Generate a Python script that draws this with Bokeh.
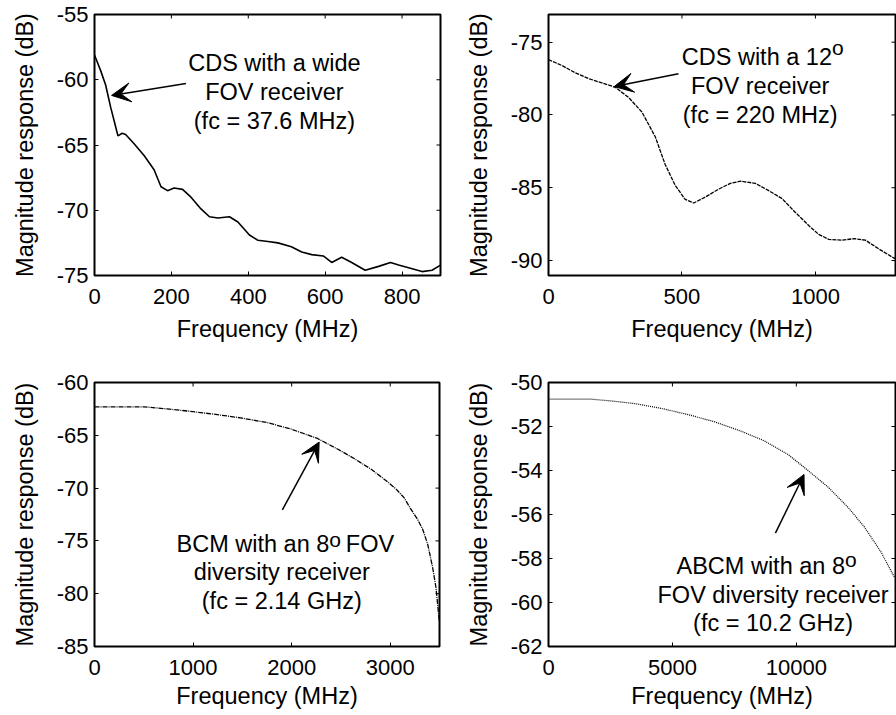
import math
from bokeh.plotting import figure
from bokeh.layouts import column, row
from bokeh.models import Range1d, FixedTicker, Arrow, VeeHead, Label
from bokeh.embed import file_html
from bokeh.resources import INLINE

# ---------------- data ----------------
cds_wide_freq = [0, 16, 29, 42, 55, 61, 72, 81, 103, 129, 155, 173, 190, 207, 229, 251, 277, 299,
                 321, 351, 373, 403, 425, 451, 477, 512, 539, 565, 595, 617, 643, 669, 704, 739,
                 770, 791, 817, 852, 878, 900]
cds_wide_mag = [-58.1, -59.3, -60.4, -62.1, -63.6, -64.3, -64.1, -64.2, -64.9, -65.8, -66.9, -68.2,
                -68.5, -68.3, -68.4, -69.0, -69.9, -70.5, -70.6, -70.5, -70.9, -71.9, -72.3, -72.4,
                -72.5, -72.8, -73.2, -73.4, -73.5, -74.0, -73.6, -74.0, -74.6, -74.3, -74.0, -74.2,
                -74.4, -74.7, -74.6, -74.2]

cds12_freq = [0, 50, 100, 150, 200, 250, 300, 350, 400, 437, 475, 512, 544, 587, 637, 681, 719,
              775, 825, 875, 925, 975, 1012, 1050, 1100, 1144, 1187, 1237, 1300]
cds12_mag = [-76.2, -76.6, -77.1, -77.5, -77.8, -78.1, -78.8, -79.8, -81.5, -83.4, -84.85, -85.8,
             -86.05, -85.65, -85.1, -84.7, -84.55, -84.7, -85.2, -85.75, -86.7, -87.6, -88.2,
             -88.55, -88.6, -88.5, -88.6, -89.2, -89.9]

bcm_freq = [0, 500, 738, 941, 1212, 1483, 1754, 1991, 2262, 2465, 2634, 2804, 2973, 3060, 3140,
            3210, 3280, 3329, 3380, 3430, 3464, 3481, 3498]
bcm_mag = [-62.3, -62.3, -62.5, -62.7, -63.0, -63.35, -63.8, -64.4, -65.3, -66.3, -67.2, -68.2,
           -69.4, -70.1, -70.9, -72.0, -73.0, -73.9, -75.3, -77.5, -79.4, -81.0, -82.6]

abcm_freq = [0, 1745, 2550, 3490, 4564, 5638, 6711, 7785, 8725, 9664, 10470, 11275, 12081, 12752,
             13423, 13960]
abcm_mag = [-50.76, -50.76, -50.84, -50.96, -51.18, -51.46, -51.79, -52.22, -52.66, -53.27, -54.0,
            -54.75, -55.67, -56.58, -57.72, -58.86]

x_ticks_1 = [0, 200, 400, 600, 800]
y_ticks_1 = [-75, -70, -65, -60, -55]
x_ticks_2 = [0, 500, 1000]
y_ticks_2 = [-90, -85, -80, -75]
x_ticks_3 = [0, 1000, 2000, 3000]
y_ticks_3 = [-85, -80, -75, -70, -65, -60]
x_ticks_4 = [0, 5000, 10000]
y_ticks_4 = [-62, -60, -58, -56, -54, -52, -50]

x_label = "Frequency (MHz)"
y_label = "Magnitude response (dB)"

FONT = "Liberation Sans"
TICK_SIZE = "22px"
LABEL_SIZE = "23.5px"
ANN_SIZE = "23.5px"
SUP_SIZE = "21px"


def make_fig(width, height, bl, br, bt, bb, xr, yr, xt, yt, xstand):
    p = figure(width=width, height=height, x_range=Range1d(*xr), y_range=Range1d(*yr),
               output_backend="svg", toolbar_location=None,
               min_border_left=bl, min_border_right=br, min_border_top=bt, min_border_bottom=bb)
    p.background_fill_color = "white"
    p.border_fill_color = "white"
    p.outline_line_color = "black"
    p.outline_line_width = 2
    p.xgrid.visible = False
    p.ygrid.visible = False
    for ax, ticks in ((p.xaxis[0], xt), (p.yaxis[0], yt)):
        ax.ticker = FixedTicker(ticks=ticks)
        ax.major_label_overrides = {t: str(t) for t in ticks}
        ax.major_tick_in = 4
        ax.major_tick_out = 0
        ax.minor_tick_line_color = None
        ax.major_tick_line_color = "black"
        ax.major_tick_line_width = 1
        ax.axis_line_color = None
        ax.major_label_text_font = FONT
        ax.major_label_text_font_size = TICK_SIZE
        ax.major_label_text_color = "black"
        ax.axis_label_text_font = FONT
        ax.axis_label_text_font_size = LABEL_SIZE
        ax.axis_label_text_font_style = "normal"
        ax.axis_label_text_color = "black"
    p.xaxis[0].axis_label = x_label
    p.yaxis[0].axis_label = y_label
    p.xaxis[0].major_label_standoff = 13
    p.yaxis[0].major_label_standoff = 6
    p.xaxis[0].axis_label_standoff = xstand
    p.yaxis[0].axis_label_standoff = 16
    # inward tick marks on the top and right edges (box on)
    p.ray(x=xt, y=[yr[1]] * len(xt), length=4, length_units="screen", angle=-math.pi / 2,
          line_color="black", line_width=1)
    p.ray(x=[xr[1]] * len(yt), y=yt, length=4, length_units="screen", angle=math.pi,
          line_color="black", line_width=1)
    return p


def lbl(p, x, y, text, align="center", size=ANN_SIZE, xo=0, yo=0):
    p.add_layout(Label(x=x, y=y, text=text, text_align=align, text_baseline="alphabetic",
                       text_font=FONT, text_font_size=size, text_color="black",
                       x_offset=xo, y_offset=yo))


def arrow(p, xs, ys, xe, ye):
    p.add_layout(Arrow(end=VeeHead(size=19, fill_color="black", line_color="black", line_width=1),
                       x_start=xs, y_start=ys, x_end=xe, y_end=ye,
                       line_color="black", line_width=1.5))


# --- panel 1
p1 = make_fig(448, 348, 94, 8, 14, 73, (0, 900), (-75, -55), x_ticks_1, y_ticks_1, 9)
p1.line(cds_wide_freq, cds_wide_mag, line_color="black", line_width=1.6)
lbl(p1, 468, -58.70, "CDS with a wide")
lbl(p1, 468, -60.95, "FOV receiver")
lbl(p1, 468, -63.15, "(fc = 37.6 MHz)")
arrow(p1, 238, -60.29, 44.4, -61.2)

# --- panel 2
p2 = make_fig(448, 348, 100, 1, 14, 73, (0, 1300), (-91.03, -73.1), x_ticks_2, y_ticks_2, 9)
p2.line(cds12_freq, cds12_mag, line_color="black", line_width=1.3, line_dash="4 1")
lbl(p2, 1062, -76.03, "CDS with a 12", align="right")
lbl(p2, 1062, -76.03, "o", align="left", size=SUP_SIZE, yo=10)
lbl(p2, 793, -78.03, "FOV receiver")
lbl(p2, 793, -79.97, "(fc = 220 MHz)")
arrow(p2, 487, -77.17, 246, -78.05)

# --- panel 3
p3 = make_fig(448, 367, 94, 9, 34, 69, (0, 3500), (-85, -60), x_ticks_3, y_ticks_3, 5)
p3.line(bcm_freq, bcm_mag, line_color="black", line_width=1.3, line_dash="5 1 1 1")
lbl(p3, 2382, -75.26, "BCM with an 8", align="right")
lbl(p3, 2382, -75.26, "o", align="left", size=SUP_SIZE, yo=4.5)
lbl(p3, 2382, -75.26, "FOV", align="left", xo=16.5)
lbl(p3, 1900, -77.98, "diversity receiver")
lbl(p3, 1900, -80.67, "(fc = 2.14 GHz)")
arrow(p3, 1906, -72.06, 2279, -65.64)

# --- panel 4
p4 = make_fig(448, 367, 100, 1, 34, 69, (0, 14000), (-62, -50), x_ticks_4, y_ticks_4, 5)
p4.line(abcm_freq, abcm_mag, line_color="black", line_width=1.2, line_dash="1 1")
lbl(p4, 11961, -58.36, "ABCM with an 8", align="right")
lbl(p4, 11961, -58.36, "o", align="left", size=SUP_SIZE, yo=6.5)
lbl(p4, 9061, -59.66, "FOV diversity receiver")
lbl(p4, 9061, -60.94, "(fc = 10.2 GHz)")
arrow(p4, 9155, -56.85, 10310, -54.18)

layout = column(row(p1, p2), row(p3, p4))
open("out.html", "w").write(file_html(layout, INLINE))
